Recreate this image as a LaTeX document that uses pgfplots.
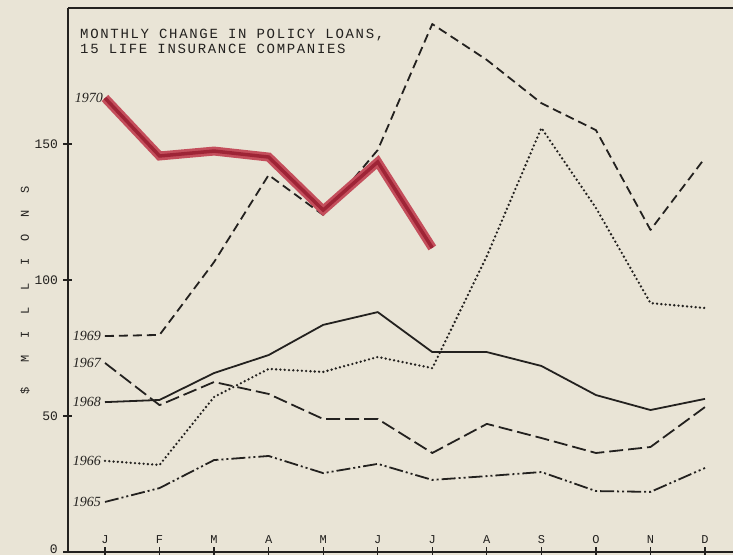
\documentclass[border=0pt]{standalone}
\usepackage{fontspec}
\setmainfont{Liberation Serif}
\newfontfamily\monofont{Liberation Mono}
\newfontfamily\titlefont{Liberation Mono}[LetterSpace=12]
\newfontfamily\ylabfont{Liberation Mono}[LetterSpace=142]
\usepackage{pgfplots}
\pgfplotsset{compat=1.18}
\definecolor{paper}{RGB}{233,228,214}
\definecolor{ink}{RGB}{35,33,31}
\definecolor{redo}{RGB}{196,78,92}
\definecolor{redi}{RGB}{158,36,54}
\begin{document}
\begin{tikzpicture}
\fill[paper] (-75bp,-10bp) rectangle (700bp,560bp);
\begin{axis}[
  scale only axis, width=691.6bp, height=544bp,
  xmin=-0.678, xmax=12, ymin=0, ymax=200,
  axis x line*=bottom, axis y line*=left,
  axis line style={ink, line width=1.4bp},
  xtick={0,...,11}, xticklabels={J,F,M,A,M,J,J,A,S,O,N,D},
  ytick={50,100,150},
  extra y ticks={0}, extra y tick labels={},
  tick align=center, major tick length=9bp,
  tick style={ink, line width=1.2bp},
  x tick label style={anchor=south, yshift=9bp, font=\monofont\fontsize{12bp}{12bp}\selectfont, text=ink},
  y tick label style={font=\monofont\fontsize{13bp}{13bp}\selectfont, text=ink, xshift=-2bp},
  /pgf/number format/assume math mode=true,
  clip=false,
  every axis plot/.append style={ink, line width=1.8bp, line join=round},
]
% 1969
\addplot[dash pattern=on 9bp off 5bp] coordinates {(0,79.4) (1,79.8) (2,106.6) (3,138.6) (4,123.9) (5,147.8) (6,194.1) (7,180.9) (8,165.0) (9,155.1) (10,118.4) (11,144.9)};
% 1968
\addplot[solid] coordinates {(0,55.1) (1,55.9) (2,65.8) (3,72.4) (4,83.5) (5,88.2) (6,73.5) (7,73.5) (8,68.4) (9,57.7) (10,52.2) (11,56.3)};
% 1967
\addplot[dash pattern=on 14bp off 5bp] coordinates {(0,69.5) (1,54.0) (2,62.5) (3,58.1) (4,48.9) (5,48.9) (6,36.4) (7,47.1) (8,41.9) (9,36.4) (10,38.6) (11,53.3)};
% 1966
\addplot[line width=2.6bp, line cap=round, dash pattern=on 0bp off 4.3bp] coordinates {(0,33.5) (1,32.0) (2,57.0) (3,67.3) (4,66.2) (5,71.7) (6,67.6) (7,108.8) (8,155.9) (9,126.5) (10,91.5) (11,89.7)};
% 1965
\addplot[dash pattern=on 14bp off 3bp on 2bp off 3bp on 2bp off 3bp] coordinates {(0,18.4) (1,23.5) (2,33.8) (3,35.3) (4,29.0) (5,32.4) (6,26.5) (7,27.9) (8,29.4) (9,22.4) (10,22.1) (11,30.9)};
% 1970
\addplot[redo, line width=9bp, line join=miter] coordinates {(0,166.9) (1,145.6) (2,147.4) (3,145.2) (4,125.7) (5,143.4) (6,111.8)};
\addplot[redi, line width=3.5bp, line join=miter] coordinates {(0,166.9) (1,145.6) (2,147.4) (3,145.2) (4,125.7) (5,143.4) (6,111.8)};
\end{axis}
\fill[paper] (652bp,2bp) rectangle (700bp,542bp);
\draw[ink, line width=1.8bp] (0,544bp) -- (690bp,544bp);
\node[anchor=south east, inner sep=0pt, text=ink, font=\monofont\fontsize{13bp}{13bp}\selectfont] at (-10bp,-2bp) {0};
\begin{scope}[every node/.style={anchor=east, inner sep=0pt, text=ink, font=\itshape\fontsize{14bp}{14bp}\selectfont}]
\node at (35bp,454bp) {1970};
\node at (33bp,216bp) {1969};
\node at (33bp,189bp) {1967};
\node at (33bp,150bp) {1968};
\node at (33bp,91bp) {1966};
\node at (33bp,50bp) {1965};
\end{scope}
\node[anchor=north west, inner sep=0pt, align=left, text=ink, font=\titlefont\fontsize{14bp}{15bp}\selectfont] at (12bp,523bp) {MONTHLY CHANGE IN POLICY LOANS,\\15 LIFE INSURANCE COMPANIES};
\node[rotate=90, inner sep=0pt, text=ink, font=\ylabfont\fontsize{12bp}{12bp}\selectfont] at (-43bp,262bp) {\$ MILLIONS};
\pgfresetboundingbox
\path[use as bounding box] (-68bp,-3bp) rectangle (665bp,552bp);
\end{tikzpicture}
\end{document}
